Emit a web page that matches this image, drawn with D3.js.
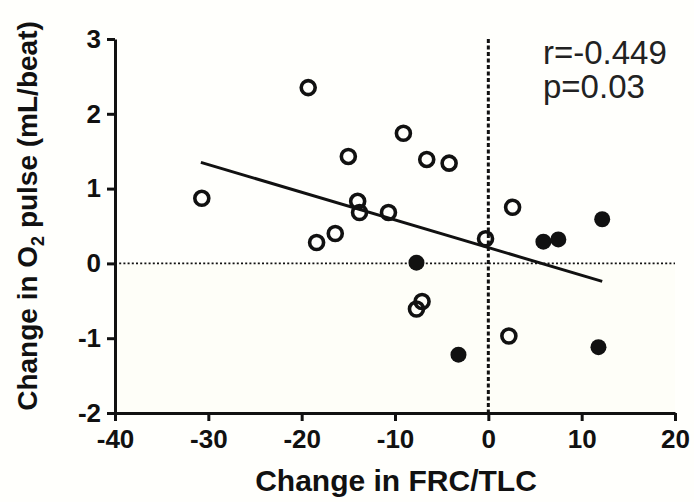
<!DOCTYPE html>
<meta charset="utf-8">
<title>Change in O2 pulse vs FRC/TLC</title>
<style>
    body {
        margin: 0;
        background: #fffffc;
        font-family: "Liberation Sans", Arial, sans-serif;
    }
</style>

<body>
    <div id="chart"></div>

    <script src="https://cdn.jsdelivr.net/npm/d3@7"></script>
    <script>
        // open circles
        var openX = [-30.7, -19.3, -18.4, -16.4, -15.0, -14.0, -13.8, -10.7, -9.1, -6.6, -4.2, -0.3, 2.6, -7.1, -7.7, 2.2];
        var openY = [0.87, 2.35, 0.28, 0.40, 1.43, 0.83, 0.68, 0.68, 1.74, 1.39, 1.34, 0.33, 0.75, -0.51, -0.61, -0.97];
        // filled dots
        var fillX = [-7.7, -3.2, 5.9, 7.5, 12.2, 11.8];
        var fillY = [0.01, -1.22, 0.29, 0.32, 0.59, -1.12];
        // regression line end points
        var fitX = [-30.8, 12.2];
        var fitY = [1.35, -0.24];

        var xTicks = [-40, -30, -20, -10, 0, 10, 20];
        var yTicks = [-2, -1, 0, 1, 2, 3];
        var statLines = ["r=-0.449", "p=0.03"];

        var W = 694, H = 502;
        var x = d3.scaleLinear().domain([-40, 20]).range([115, 675]);
        var y = d3.scaleLinear().domain([-2, 3]).range([413, 39]);

        // plain hyphen for negatives, like the original
        var fmt = function(d) { return String(d); };

        var svg = d3.select("#chart").append("svg")
            .attr("width", W)
            .attr("height", H);

        // faint tint of the lower half
        svg.append("rect")
            .attr("x", x(-40)).attr("y", y(0))
            .attr("width", x(20) - x(-40)).attr("height", y(-2) - y(0))
            .attr("fill", "#fefef8");

        // reference lines
        svg.append("line")
            .attr("x1", x(-40)).attr("x2", x(20))
            .attr("y1", y(0)).attr("y2", y(0))
            .attr("stroke", "#111").attr("stroke-width", 1.8)
            .attr("stroke-dasharray", "2,2.2");
        svg.append("line")
            .attr("x1", x(0)).attr("x2", x(0))
            .attr("y1", y(3)).attr("y2", y(-2))
            .attr("stroke", "#111").attr("stroke-width", 3)
            .attr("stroke-dasharray", "4,2.5");

        // axes
        var xAxis = svg.append("g")
            .attr("transform", "translate(0," + y(-2) + ")")
            .call(d3.axisBottom(x).tickValues(xTicks).tickFormat(fmt)
                .tickSize(8).tickPadding(9).tickSizeOuter(0));
        var yAxis = svg.append("g")
            .attr("transform", "translate(" + x(-40) + ",0)")
            .call(d3.axisLeft(y).tickValues(yTicks).tickFormat(fmt)
                .tickSize(8).tickPadding(6).tickSizeOuter(0));

        [xAxis, yAxis].forEach(function(g) {
            g.select(".domain").attr("stroke", "#111").attr("stroke-width", 3);
            g.selectAll(".tick line").attr("stroke", "#111").attr("stroke-width", 3);
            g.selectAll(".tick text")
                .attr("fill", "#111")
                .style("font-family", "'Liberation Sans', Arial, sans-serif")
                .style("font-weight", "bold")
                .style("font-size", "26px");
        });

        // regression line
        svg.append("line")
            .attr("x1", x(fitX[0])).attr("y1", y(fitY[0]))
            .attr("x2", x(fitX[1])).attr("y2", y(fitY[1]))
            .attr("stroke", "#111").attr("stroke-width", 3);

        // points
        svg.selectAll(".open")
            .data(d3.range(openX.length))
            .enter().append("circle")
            .attr("class", "open")
            .attr("cx", function(i) { return x(openX[i]); })
            .attr("cy", function(i) { return y(openY[i]); })
            .attr("r", 7)
            .attr("fill", "none")
            .attr("stroke", "#111")
            .attr("stroke-width", 3.6);

        svg.selectAll(".filled")
            .data(d3.range(fillX.length))
            .enter().append("circle")
            .attr("class", "filled")
            .attr("cx", function(i) { return x(fillX[i]); })
            .attr("cy", function(i) { return y(fillY[i]); })
            .attr("r", 8)
            .attr("fill", "#111");

        // axis titles
        svg.append("text")
            .attr("x", 396).attr("y", 491)
            .attr("text-anchor", "middle")
            .style("font-weight", "bold").style("font-size", "30px")
            .attr("fill", "#111")
            .text("Change in FRC/TLC");

        var yl = svg.append("text")
            .attr("transform", "translate(37,216) rotate(-90)")
            .attr("text-anchor", "middle")
            .style("font-weight", "bold").style("font-size", "28px")
            .attr("fill", "#111");
        yl.append("tspan").text("Change in O");
        yl.append("tspan").attr("dy", 7).style("font-size", "18px").text("2");
        yl.append("tspan").attr("dy", -7).text(" pulse (mL/beat)");

        // stats
        svg.selectAll(".stat")
            .data(statLines)
            .enter().append("text")
            .attr("class", "stat")
            .attr("x", 543)
            .attr("y", function(d, i) { return 64 + i * 34; })
            .style("font-size", "33px")
            .attr("fill", "#222")
            .text(function(d) { return d; });
    </script>
</body>
